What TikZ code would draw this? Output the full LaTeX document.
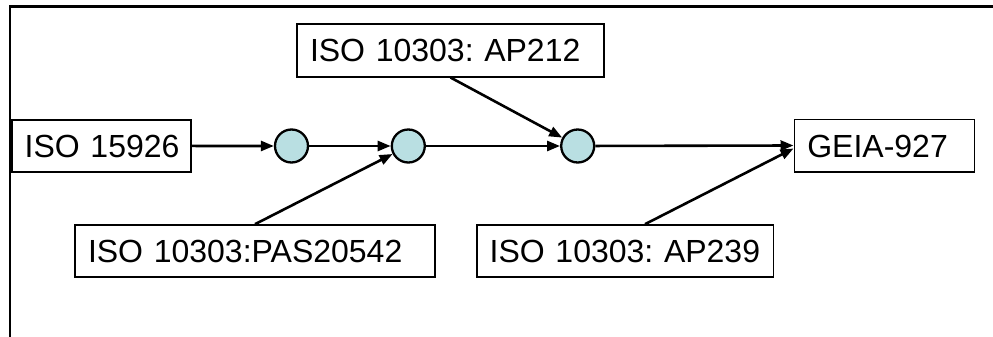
\documentclass[tikz,border=0pt]{standalone}
\usepackage{fontspec}
\setmainfont{Liberation Sans}
\usetikzlibrary{arrows.meta}
\definecolor{junction}{RGB}{185,223,226}
\begin{document}
\begin{tikzpicture}[x=1pt,y=-1pt,
  stdbox/.style={draw=black, line width=1.6pt, fill=white,
    inner xsep=13pt, inner ysep=0pt, align=left,
    text height=23pt, text depth=0pt,
    font=\fontsize{32}{38}\selectfont\frenchspacing},
  junc/.style={circle, draw=black, line width=2.3pt, fill=junction,
    minimum size=33pt, inner sep=0pt},
  flow/.style={line width=2.6pt, -{Triangle[length=13pt,width=10pt]}}]
  \useasboundingbox (0,0) rectangle (993,337);
  % frame edges
  \draw[line width=2.4pt] (10,337) -- (10,6.7) -- (993,6.7);
  % standards
  \node[stdbox, minimum width=179pt, minimum height=51.7pt, text width=153pt] (iso15926) at (101.2,145.9) {\mbox{ISO 15926}};
  \node[stdbox, minimum width=307pt, minimum height=52.4pt, text width=281pt] (ap212) at (450.5,50.5) {\mbox{ISO 10303: AP212}};
  \node[stdbox, minimum width=360pt, minimum height=52pt, text width=334pt] (pas) at (255,251) {\mbox{ISO 10303:PAS20542}};
  \node[stdbox, minimum width=296.6pt, minimum height=52pt, text width=270.6pt] (ap239) at (625,251) {\mbox{ISO 10303: AP239}};
  \node[stdbox, minimum width=180pt, minimum height=52.4pt, text width=154pt] (geia) at (884.3,145.5) {\mbox{GEIA-927}};
  % junctions
  \node[junc] (j1) at (291.5,146) {};
  \node[junc] (j2) at (408.3,146) {};
  \node[junc] (j3) at (577.7,146) {};
  % connectors
  \draw[flow] (iso15926) -- (j1);
  \draw[flow] (j1) -- (j2);
  \draw[flow] (pas.north) -- (j2);
  \draw[flow] (j2) -- (j3);
  \draw[flow] (ap212.south) -- (j3);
  \draw[flow] (j3) -- (geia.west);
  \draw[flow] ([xshift=20pt]ap239.north) -- ([yshift=-3pt]geia.west);
\end{tikzpicture}
\end{document}
